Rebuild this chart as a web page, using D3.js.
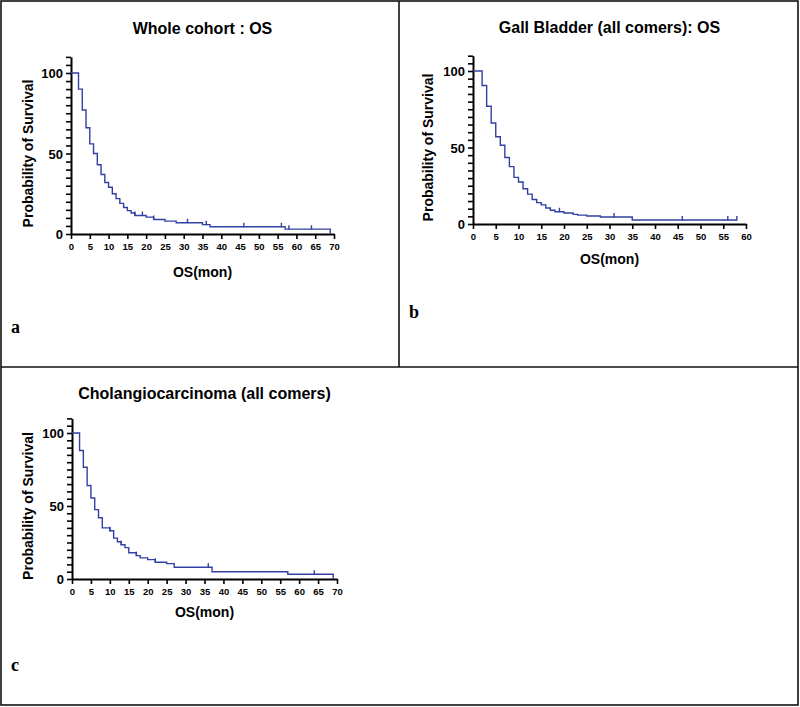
<!DOCTYPE html>
<html>
<head>
<meta charset="utf-8">
<script src="https://cdn.jsdelivr.net/npm/d3@7"></script>
<style>
  body { margin: 0; background: #fff; }
  text { font-family: "Liberation Sans", Arial, sans-serif; font-weight: bold; }
</style>
</head>
<body>
<div class="inner-content"></div>
<script>
// Whole cohort (a)
var wholeTimes  = [0, 2, 3, 4, 5, 6, 7, 8, 9, 10, 11, 12, 13, 14, 15, 16, 17, 20, 22, 25, 28, 35, 37, 57, 69];
var wholeSurv   = [100, 90, 77, 66, 56, 50, 43, 37, 32, 29, 25, 22, 19, 16.5, 14.5, 13, 11.5, 10.5, 9, 8, 7, 5.8, 4.5, 3, 0];
var wholeCensor = [17, 19, 22, 31, 36, 46, 56, 58, 64];

// Gall bladder (b)
var gbTimes  = [0, 2, 3, 4, 5, 6, 7, 8, 9, 10, 11, 12, 13, 14, 15, 16, 17, 18, 20, 22, 23, 25, 28, 35];
var gbSurv   = [100, 90.5, 77, 66, 57, 51.5, 43.5, 37.5, 30.5, 27.5, 23, 19.5, 16, 14, 12.5, 10.5, 9, 8, 7.2, 6.3, 5.8, 5.2, 4.6, 2.6];
var gbCensor = [19, 31, 46, 56, 58];

// Cholangiocarcinoma (c)
var ccTimes  = [0, 2, 3, 4, 5, 6, 7, 8, 10, 11, 12, 13, 14, 15, 17, 18, 20, 22, 25, 27, 37, 57, 69];
var ccSurv   = [100, 88, 76.5, 64, 55.5, 47.5, 42, 35, 33, 28, 25.5, 23.5, 21.5, 18, 16, 14.5, 13.3, 11.5, 10.5, 8, 5, 3.3, 0];
var ccCensor = [10, 13, 17, 22, 36, 64];

var xTicks70 = [0, 5, 10, 15, 20, 25, 30, 35, 40, 45, 50, 55, 60, 65, 70];
var xTicks60 = [0, 5, 10, 15, 20, 25, 30, 35, 40, 45, 50, 55, 60];
var yLabels  = [0, 50, 100];

var panels = [
  { title: "Whole cohort : OS", letter: "a", times: wholeTimes, surv: wholeSurv, censor: wholeCensor,
    end: 69, xMax: 70, xTicks: xTicks70, left: 71, right: 334, y0: 234, y100: 73,
    titleY: 34, xTitleY: 277, letterX: 11, letterY: 333, yTitleX: 33 },
  { title: "Gall Bladder (all comers): OS", letter: "b", times: gbTimes, surv: gbSurv, censor: gbCensor,
    end: 58, xMax: 60, xTicks: xTicks60, left: 473, right: 746, y0: 224, y100: 71,
    titleY: 33, xTitleY: 264, letterX: 409, letterY: 318, yTitleX: 433 },
  { title: "Cholangiocarcinoma (all comers)", letter: "c", times: ccTimes, surv: ccSurv, censor: ccCensor,
    end: 69, xMax: 70, xTicks: xTicks70, left: 72, right: 337, y0: 579, y100: 433,
    titleY: 399, xTitleY: 617, letterX: 11, letterY: 671, yTitleX: 33 }
];

var svg = d3.select(".inner-content")
  .append("svg")
    .attr("width", 800)
    .attr("height", 707);

// frames
var frame = svg.append("g")
  .attr("fill", "none")
  .attr("stroke", "#111")
  .attr("stroke-width", 1.6);
frame.append("rect").attr("x", 1).attr("y", 1).attr("width", 797).attr("height", 704);
frame.append("line").attr("x1", 399).attr("x2", 399).attr("y1", 1).attr("y2", 367);
frame.append("line").attr("x1", 1).attr("x2", 798).attr("y1", 367).attr("y2", 367);

function drawPanel(p) {
  var x = d3.scaleLinear().domain([0, p.xMax]).range([p.left, p.right]);
  var unit = (p.y0 - p.y100) / 100;
  var y = d3.scaleLinear().domain([0, 110]).range([p.y0, p.y0 - 110 * unit]);

  var g = svg.append("g");

  // x axis
  var xAxis = g.append("g")
    .attr("transform", "translate(0," + p.y0 + ")")
    .call(d3.axisBottom(x).tickValues(p.xTicks).tickSize(5).tickPadding(4).tickSizeOuter(0));
  xAxis.selectAll("text").style("font-size", "9.5px").attr("fill", "#000");

  // y axis, minor ticks every 5
  var yAxis = g.append("g")
    .attr("transform", "translate(" + p.left + ",0)")
    .call(d3.axisLeft(y).tickValues(d3.range(0, 111, 5)).tickSize(5).tickSizeOuter(0)
      .tickFormat(d => yLabels.indexOf(d) >= 0 ? d : ""));
  yAxis.selectAll("text").style("font-size", "13px").attr("fill", "#000").attr("dy", "0.36em");

  g.selectAll(".domain, .tick line").attr("stroke", "#000");
  g.selectAll(".domain").attr("stroke-width", 2);
  g.selectAll(".tick line").attr("stroke-width", 1.6);

  // KM curve
  var pts = p.times.map((t, i) => [t, p.surv[i]]);
  if (p.times[p.times.length - 1] < p.end) pts.push([p.end, p.surv[p.surv.length - 1]]);

  var line = d3.line()
    .x(d => x(d[0]))
    .y(d => y(d[1]))
    .curve(d3.curveStepAfter);

  g.append("path")
    .datum(pts)
    .attr("d", line)
    .attr("fill", "none")
    .attr("stroke", "#3240a3")
    .attr("stroke-width", 1.4);

  // censor marks
  function survAt(t) {
    var i = d3.bisectRight(p.times, t) - 1;
    return p.surv[Math.max(0, i)];
  }
  g.selectAll(".censor")
    .data(p.censor)
    .enter()
    .append("line")
      .attr("x1", d => x(d))
      .attr("x2", d => x(d))
      .attr("y1", d => y(survAt(d)) - 4)
      .attr("y2", d => y(survAt(d)) + 0.5)
      .attr("stroke", "#3240a3")
      .attr("stroke-width", 1.4);

  var cx = (p.left + p.right) / 2;

  g.append("text")
    .attr("x", cx)
    .attr("y", p.titleY)
    .attr("text-anchor", "middle")
    .style("font-size", "16px")
    .text(p.title);

  g.append("text")
    .attr("x", cx)
    .attr("y", p.xTitleY)
    .attr("text-anchor", "middle")
    .style("font-size", "14px")
    .text("OS(mon)");

  g.append("text")
    .attr("transform", "translate(" + p.yTitleX + "," + y(50) + ") rotate(-90)")
    .attr("text-anchor", "middle")
    .style("font-size", "14px")
    .text("Probability of Survival");

  g.append("text")
    .attr("x", p.letterX)
    .attr("y", p.letterY)
    .style("font-family", "'Liberation Serif', 'Times New Roman', serif")
    .style("font-size", "18px")
    .text(p.letter);
}

panels.forEach(drawPanel);
</script>
</body>
</html>
